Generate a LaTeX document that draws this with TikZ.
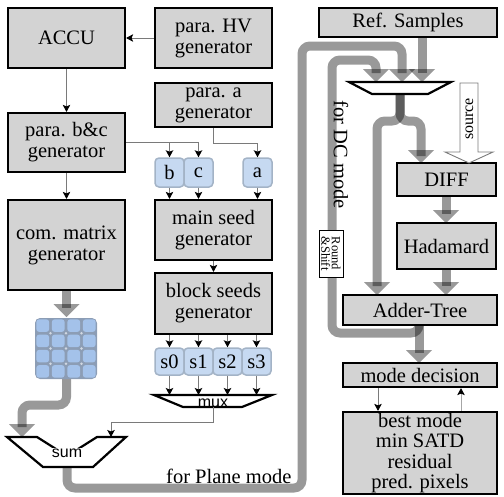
\documentclass[tikz,border=0pt]{standalone}
\usepackage{fontspec}
\setmainfont{Liberation Serif}
\newfontfamily\arialf{Liberation Sans}
\usetikzlibrary{arrows.meta}
\definecolor{boxgray}{HTML}{D3D3D3}
\definecolor{cellblue}{HTML}{C6D9F1}
\definecolor{cellborder}{HTML}{A3B3C6}
\definecolor{gridbg}{HTML}{8C9DB5}
\definecolor{gridcell}{HTML}{A4C2EA}
\definecolor{linegray}{HTML}{7A7A7A}
\newcommand\pheadat[2]{\fill[phead] (#1-13,#2-13) -- (#1+13,#2-13) -- (#1,#2) -- cycle;}
\begin{document}
\begin{tikzpicture}[x=1pt,y=-1pt,
  gbox/.style={draw=black, line width=2.2pt, fill=boxgray, align=center, inner sep=0pt, font=\fontsize{20.5}{21}\selectfont},
  sbox/.style={draw=cellborder, line width=1.5pt, fill=cellblue, rounded corners=4pt, minimum width=29pt, minimum height=29pt, inner sep=0pt, font=\fontsize{20.5}{21}\selectfont},
  thinline/.style={draw=linegray, line width=0.9pt},
  tipa/.style={-{Stealth[length=7pt,width=7.5pt,inset=1.5pt,color=black,fill=black]}},
  pipe/.style={line width=9pt, draw=black, draw opacity=0.4, rounded corners=8pt},
  phead/.style={fill=black, fill opacity=0.4},
  trap/.style={draw=black, line width=2.2pt, fill=white, line join=miter},
  lbl/.style={font=\fontsize{20.5}{21}\selectfont, inner sep=0pt}
]
\useasboundingbox (0,0) rectangle (504,496);

% ---------- pipes (drawn first) ----------
% com. matrix -> grid
\draw[pipe] (66.5,290) -- (66.5,308);
\pheadat{66.5}{317}
% grid -> sum
\draw[pipe] (66.5,370) -- (66.5,405) -- (22,405) -- (22,427);
\pheadat{22}{437}
% sum -> outer loop (for Plane mode)
\draw[pipe] (67,460) -- (67,488) -- (302,488) -- (302,46) -- (402,46) -- (402,73);
\pheadat{402}{82}
% Adder-Tree -> inner loop (for DC mode)
\draw[pipe] (419,320) -- (419,333) -- (332,333) -- (332,60) -- (376,60) -- (376,73);
\pheadat{376}{82}
% Adder-Tree -> mode decision
\draw[pipe] (419,320) -- (419,353);
\pheadat{419}{363}
% Ref samples -> mux
\draw[pipe] (422,37) -- (422,73);
\pheadat{422}{82}
% mux -> Adder-Tree
\draw[pipe] (400,90) -- (400,121) -- (377,121) -- (377,286);
\pheadat{377}{295}
% mux -> DIFF
\draw[pipe] (400,90) -- (400,121) -- (421,121) -- (421,156);
\pheadat{421}{163}
% DIFF -> Hadamard
\draw[pipe] (446,196) -- (446,214);
\pheadat{446}{223}
% Hadamard -> Adder-Tree
\draw[pipe] (446,269) -- (446,286);
\pheadat{446}{295}

% ---------- boxes ----------
\node[gbox, minimum width=117pt, minimum height=60pt] (accu) at (66.5,38) {ACCU};
\node[gbox, minimum width=117pt, minimum height=60pt] (hv) at (213.5,38) {para. HV\\generator};
\node[gbox, minimum width=117pt, minimum height=44pt] (pa) at (213.5,105) {para. a\\generator};
\node[gbox, minimum width=117pt, minimum height=59pt] (pbc) at (66.5,142.5) {para. b\&c\\generator};
\node[gbox, minimum width=117pt, minimum height=90pt] (cm) at (66.5,245) {com. matrix\\generator};
\node[gbox, minimum width=117pt, minimum height=60pt] (ms) at (213.5,230) {main seed\\generator};
\node[gbox, minimum width=117pt, minimum height=61pt] (bs) at (213.5,303.5) {block seeds\\generator};

\node[sbox] (b) at (169.5,172.5) {b};
\node[sbox] (c) at (198.5,172.5) {c};
\node[sbox] (a) at (257.5,172.5) {a};
\node[sbox, minimum height=27pt] (s0) at (169.5,361.5) {s0};
\node[sbox, minimum height=27pt] (s1) at (198.5,361.5) {s1};
\node[sbox, minimum height=27pt] (s2) at (227.5,361.5) {s2};
\node[sbox, minimum height=27pt] (s3) at (256.5,361.5) {s3};

\node[gbox, minimum width=178pt, minimum height=29pt] (ref) at (408,22.5) {Ref. Samples};
\node[gbox, minimum width=99pt, minimum height=33pt] (diff) at (446.5,179.5) {DIFF};
\node[gbox, minimum width=99pt, minimum height=46pt] (had) at (446.5,246) {Hadamard};
\node[gbox, minimum width=154pt, minimum height=30pt] (add) at (420,310) {Adder-Tree};
\node[gbox, minimum width=154pt, minimum height=24pt] (md) at (420,375) {mode decision};
\node[gbox, minimum width=154pt, minimum height=82pt, font=\fontsize{20.5}{20.5}\selectfont] (best) at (420,453) {best mode\\min SATD\\residual\\pred. pixels};

% ---------- matrix grid ----------
\fill[gridbg, rounded corners=5pt] (35,318) rectangle (97,379);
\foreach \i in {0,1,2,3}{
  \foreach \j in {0,1,2,3}{
    \fill[gridcell, rounded corners=3pt] (35+1.3+15.5*\i,318+1.3+15.25*\j) rectangle (35+15.5*\i+15.5-1.3,318+15.25*\j+15.25-1.3);
  }
}
\foreach \i in {1,2,3}{
  \foreach \j in {1,2,3}{
    \fill[white, opacity=0.6] (35+15.5*\i,318+15.25*\j) circle (1.3pt);
  }
}
\node[inner sep=0pt, minimum width=62pt, minimum height=61pt] (grid) at (66,348.5) {};

% ---------- trapezoids ----------
\draw[trap] (154,395) -- (272,395) -- (242,407) -- (183,407) -- cycle;
\node[font=\arialf\fontsize{16}{16}\selectfont, inner sep=0pt, anchor=base] (muxl) at (213,407.5) {mux};
\coordinate (muxT) at (213,395);
\coordinate (muxB) at (213,407);

\draw[trap] (7,437) -- (37,437) -- (67,456) -- (97,437) -- (126,437) -- (93,467) -- (43,467) -- cycle;
\node[font=\arialf\fontsize{16}{16}\selectfont, inner sep=1pt, fill=white] (suml) at (67,453) {sum};
\coordinate (sumT) at (111,437);

\draw[trap] (349,82) -- (451,82) -- (428,94) -- (372,94) -- cycle;

% ---------- source arrow ----------
\draw[draw=linegray, line width=0.9pt, fill=white] (460,83) -- (478,83) -- (478,152) -- (493,152) -- (469,163) -- (445,152) -- (460,152) -- cycle;
\node[rotate=90, font=\fontsize{16}{16}\selectfont, inner sep=0pt] (src) at (469.5,119) {source};

% ---------- labels ----------
\node[lbl, anchor=base west] (plane) at (166,483) {for Plane mode};
\node[lbl, rotate=-90] (dc) at (341,155) {for DC mode};
\node[draw=black, line width=0.8pt, fill=white, rotate=-90, minimum width=47pt, minimum height=24pt, inner sep=0pt, align=center, font=\fontsize{12.5}{10.5}\selectfont] (rs) at (331,253.5) {Round\\\&Shift};

% ---------- thin connectors ----------
\draw[thinline, tipa] (hv.west) -- (accu.east);
\draw[thinline, tipa] (accu.south) -- (pbc.north);
\draw[thinline, tipa] (pbc.south) -- (cm.north);
\draw[thinline, tipa] (pbc.east) -| (c.north);
\draw[thinline, tipa] (b.north |- pbc.east) -- (b.north);
\draw[thinline, tipa] (pa.south) -- ++(0,15) -| (a.north);
\foreach \n in {b,c,a}{
  \draw[thinline, tipa] (\n.south) -- (\n.south |- ms.north);
}
\draw[thinline, tipa] (ms.south) -- (bs.north);
\foreach \n in {s0,s1,s2,s3}{
  \draw[thinline, tipa] (\n.north |- bs.south) -- (\n.north);
  \draw[thinline, tipa] (\n.south) -- (\n.south |- muxT);
}
\draw[thinline, tipa] (muxB) -- ++(0,15) -| (sumT);
\draw[thinline, tipa] ([xshift=-42pt]md.south) -- ([xshift=-42pt]best.north);
\draw[thinline, draw=gray!70, tipa] ([xshift=41pt]best.north) -- ([xshift=41pt]md.south);
\end{tikzpicture}
\end{document}
